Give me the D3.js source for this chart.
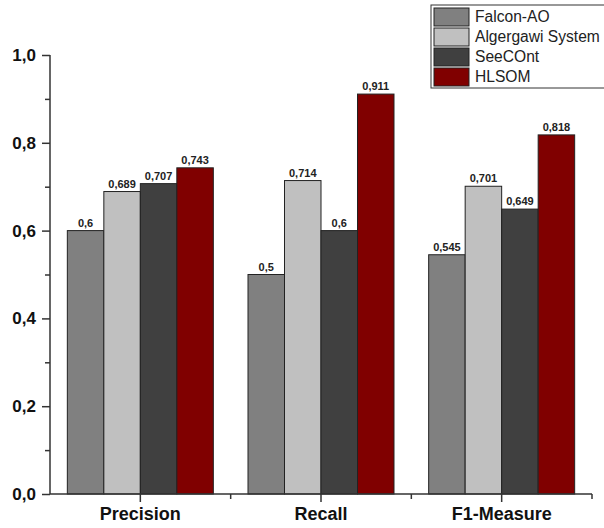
<!DOCTYPE html>
<html>
<head>
<meta charset="utf-8">
<script src="https://cdn.jsdelivr.net/npm/d3@7"></script>
<style>
  body { margin: 0; background: #fff; overflow: hidden; }
  text { font-family: "Liberation Sans", Arial, sans-serif; }
</style>
</head>
<body>
<script>
const categories = ['Precision', 'Recall', 'F1-Measure'];
const seriesNames = ['Falcon-AO', 'Algergawi System', 'SeeCOnt', 'HLSOM'];
const falcon = [0.6, 0.5, 0.545];
const algergawi = [0.689, 0.714, 0.701];
const seecont = [0.707, 0.6, 0.649];
const hlsom = [0.743, 0.911, 0.818];
const valueLabels = [
  ['0,6', '0,5', '0,545'],
  ['0,689', '0,714', '0,701'],
  ['0,707', '0,6', '0,649'],
  ['0,743', '0,911', '0,818']
];
const yTicks = [0, 0.2, 0.4, 0.6, 0.8, 1.0];
const yMinor = [0.1, 0.3, 0.5, 0.7, 0.9];
const colors = ['#808080', '#c0c0c0', '#404040', '#800000'];

const series = [falcon, algergawi, seecont, hlsom];
const width = 604, height = 528;

const svg = d3.select('body').append('svg')
              .attr('width', width)
              .attr('height', height);

const y = d3.scaleLinear().domain([0, 1]).range([494, 55]);
const x = d3.scaleBand().domain(categories).range([50, 592]).padding(0);
const xs = d3.scaleBand().domain(d3.range(4)).range([0, 146]);

// bars
categories.forEach((c, ci) => {
  const cx = x(c) + x.bandwidth() / 2 - 73;
  series.forEach((s, si) => {
    svg.append('rect')
       .attr('x', cx + xs(si))
       .attr('y', y(s[ci]))
       .attr('width', xs.bandwidth())
       .attr('height', y(0) - y(s[ci]))
       .attr('fill', colors[si])
       .attr('stroke', '#222')
       .attr('stroke-width', 1);
    svg.append('text')
       .attr('x', cx + xs(si) + xs.bandwidth() / 2)
       .attr('y', y(s[ci]) - 4)
       .attr('text-anchor', 'middle')
       .attr('font-size', 11)
       .attr('font-weight', 'bold')
       .attr('fill', '#222')
       .text(valueLabels[si][ci]);
  });
});

// y axis
const yAxis = svg.append('g').attr('transform', 'translate(50,0)')
  .call(d3.axisLeft(y).tickValues(yTicks).tickSize(8).tickPadding(6)
          .tickFormat(d => d3.format('.1f')(d).replace('.', ',')));
yAxis.selectAll('text').attr('font-size', 17).attr('font-weight', 'bold')
     .attr('fill', '#111').style('font-family', '"Liberation Sans", Arial, sans-serif');
yAxis.select('.domain').attr('d', 'M0,494V55').attr('stroke', '#333').attr('stroke-width', 1.5);
yAxis.selectAll('line').attr('stroke', '#333').attr('stroke-width', 1.5);
svg.append('g').attr('transform', 'translate(50,0)')
   .call(d3.axisLeft(y).tickValues(yMinor).tickSize(5).tickFormat(''))
   .call(g => g.select('.domain').remove())
   .selectAll('line').attr('stroke', '#333').attr('stroke-width', 1.5);

// x axis
const xAxis = svg.append('g').attr('transform', 'translate(0,494)')
  .call(d3.axisBottom(x).tickSize(8).tickPadding(5));
xAxis.select('.domain').attr('d', 'M50,0H592').attr('stroke', '#333').attr('stroke-width', 1.5);
xAxis.selectAll('line').attr('stroke', '#333').attr('stroke-width', 1.5);
xAxis.selectAll('text').attr('font-size', 18).attr('font-weight', 'bold')
     .attr('fill', '#111').style('font-family', '"Liberation Sans", Arial, sans-serif');
const bounds = categories.map(c => x(c)).concat([x.range()[1]]).slice(1);
svg.append('g').selectAll('line').data(bounds).enter().append('line')
   .attr('x1', d => d).attr('x2', d => d)
   .attr('y1', 494).attr('y2', 499)
   .attr('stroke', '#333').attr('stroke-width', 1.5);

// legend
const legend = svg.append('g').attr('transform', 'translate(431,5)');
legend.append('rect').attr('x', 0).attr('y', 0).attr('width', 200).attr('height', 83)
      .attr('fill', '#fff').attr('stroke', '#333').attr('stroke-width', 1);
seriesNames.forEach((n, i) => {
  legend.append('rect').attr('x', 3).attr('y', 3 + i * 20).attr('width', 35).attr('height', 18)
        .attr('fill', colors[i]).attr('stroke', '#222');
  legend.append('text').attr('x', 44).attr('y', 17 + i * 20)
        .attr('font-size', 15.6).attr('fill', '#222').text(n);
});
</script>
</body>
</html>
